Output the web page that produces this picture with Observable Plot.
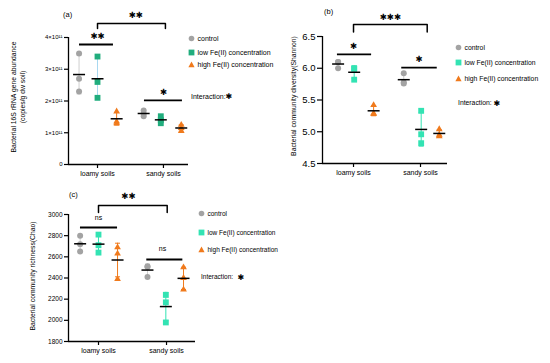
<!DOCTYPE html>
<html><head><meta charset="utf-8">
<script src="https://cdn.jsdelivr.net/npm/d3@7"></script>
<script src="https://cdn.jsdelivr.net/npm/@observablehq/plot@0.6"></script>
<style>
html,body{margin:0;padding:0;background:#fff;}
#chart{position:relative;width:550px;height:363px;overflow:hidden;font-family:"Liberation Sans",Arial,sans-serif;color:#000;background:#fff;}
.panel{position:absolute;}
.abs{position:absolute;white-space:nowrap;line-height:1;}
.row{position:absolute;white-space:nowrap;display:flex;align-items:center;height:8px;font-size:7px;}
.row svg{display:block;margin-right:3px;}
.star{font-family:"DejaVu Sans",sans-serif;}
</style></head><body><div id="chart"></div><script>
const soils = ["loamy soils", "sandy soils"];
const treatments = ["control", "low Fe(II) concentration", "high Fe(II) concentration"];

// (a) Bacterial 16S rRNA gene abundance (×10^11 copies/g dw soil); rows: control, low, high
const abundanceLoamy = [[3.5, 2.7, 2.3], [3.4, 2.6, 2.1], [1.67, 1.35, 1.3]];
const abundanceSandy = [[1.7, 1.6, 1.52], [1.52, 1.4, 1.3], [1.25, 1.15, 1.05]];
const abundanceTicks = [0, 1, 2, 3, 4];
const abundanceTickLabels = ["0", "1×10¹¹", "2×10¹¹", "3×10¹¹", "4×10¹¹"];
const abundanceSig = ["**", "**", "*"]; // between soils, within loamy, within sandy

// (b) Bacterial community diversity (Shannon)
const shannonLoamy = [[6.1, 6.1, 6.0], [6.0, 5.99, 5.82], [5.42, 5.29, 5.28]];
const shannonSandy = [[5.92, 5.78, 5.76], [5.33, 4.96, 4.82], [5.04, 4.95, 4.93]];
const shannonTicks = [4.5, 5.0, 5.5, 6.0, 6.5];
const shannonTickLabels = ["4.5", "5.0", "5.5", "6.0", "6.5"];
const shannonSig = ["***", "*", "*"];

// (c) Bacterial community richness (Chao)
const chaoLoamy = [[2800, 2720, 2650], [2810, 2710, 2640], [2690, 2630, 2390]];
const chaoSandy = [[2510, 2505, 2410], [2240, 2170, 1980], [2500, 2400, 2290]];
const chaoTicks = [1800, 2000, 2200, 2400, 2600, 2800, 3000];
const chaoTickLabels = ["1800", "2000", "2200", "2400", "2600", "2800", "3000"];
const chaoSig = ["**", "ns", "ns"];

const CTRL = "#a3a3a3", CTRL_ERR = "#cfcfcf", HIGH = "#f07a1c";
const symbols = ["circle", "square", "triangle"];
const symR = [3, 3.3, 2.5];
const hline = {draw(ctx, size) { const r = Math.sqrt(size / Math.PI); ctx.moveTo(-r, 0); ctx.lineTo(r, 0); }};
const starText = s => s === "ns" ? s : s.replace(/\*/g, "✱");

const chart = document.getElementById("chart");

function panel(o) {
  const groups = [];
  [o.loamy, o.sandy].forEach((soil, s) => soil.forEach((vals, t) => {
    const mean = d3.mean(vals), sd = d3.deviation(vals);
    groups.push({x: s + 1 + o.offsets[s][t], t, vals, mean, lo: mean - sd, hi: mean + sd});
  }));
  const points = groups.flatMap(g => g.vals.map(v => ({x: g.x, y: v, t: g.t})));
  const colors = [CTRL, o.low, HIGH];
  const errColors = [CTRL_ERR, o.lowErr, HIGH];
  const a = o.ann;
  const isStar = s => s !== "ns";
  const sigMark = (txt, x, y) => Plot.text([txt], {x: () => x, y: () => y, text: d => starText(d),
    fontSize: isStar(txt) ? 8.5 : 7, fontFamily: isStar(txt) ? "DejaVu Sans" : "Liberation Sans, Arial",
    fontWeight: "normal", letterSpacing: isStar(txt) ? 0.5 : 0});
  const marks = [
    // error bars (mean ± SD)
    Plot.ruleX(groups, {x: "x", y1: "lo", y2: "hi", stroke: d => errColors[d.t], strokeWidth: 1}),
    Plot.dot(groups, {x: "x", y: "lo", symbol: hline, r: 2.5, fill: "none", stroke: d => errColors[d.t], strokeWidth: 1}),
    Plot.dot(groups, {x: "x", y: "hi", symbol: hline, r: 2.5, fill: "none", stroke: d => errColors[d.t], strokeWidth: 1}),
    // points
    ...[0, 1, 2].map(t => Plot.dot(points.filter(p => p.t === t), {x: "x", y: "y", symbol: symbols[t], r: symR[t], fill: colors[t], stroke: "none"})),
    // means
    Plot.dot(groups, {x: "x", y: "mean", symbol: hline, r: 6, fill: "none", stroke: "black", strokeWidth: 1.5}),
    // axes
    Plot.ruleX([o.xDomain[0]], {y1: o.yDomain[0], y2: o.yDomain[1], strokeWidth: 1.3}),
    Plot.ruleY([o.yDomain[0]], {x1: o.xDomain[0], x2: o.xDomain[1], strokeWidth: 1.3}),
    Plot.axisY({ticks: o.ticks, tickFormat: d => o.tickLabels[o.ticks.indexOf(d)], tickSize: o.tickSize, tickPadding: 2, fontSize: o.tickFont, label: null, strokeWidth: 1.2}),
    Plot.axisX({ticks: [1, 2], tickFormat: d => soils[d - 1], tickSize: 4, tickPadding: 3, fontSize: 7, label: null, strokeWidth: 1.2}),
    // y label
    Plot.text([o.ylabel], {text: d => d, frameAnchor: "left", textAnchor: "middle", lineAnchor: "middle", rotate: -90, dx: o.ylabelDx, dy: o.ylabelDy || 0, fontSize: 6.8, lineHeight: 1.3}),
    // significance
    Plot.line([[a.bx1, a.bdrop], [a.bx1, a.btop], [a.bx2, a.btop], [a.bx2, a.bdrop]], {x: d => d[0], y: d => d[1], strokeWidth: 1.5}),
    sigMark(o.sig[0], a.btx, a.bty),
    Plot.ruleY([a.ly], {x1: a.lx[0], x2: a.lx[1], strokeWidth: 1.8}),
    sigMark(o.sig[1], a.ltx, a.lty),
    Plot.ruleY([a.sy], {x1: a.sx[0], x2: a.sx[1], strokeWidth: 1.8}),
    sigMark(o.sig[2], a.stx, a.sty)
  ];
  const svg = Plot.plot({
    width: o.width, height: o.height,
    marginLeft: o.m[0], marginTop: o.m[1], marginRight: o.m[2], marginBottom: o.m[3],
    x: {type: "linear", domain: o.xDomain},
    y: {type: "linear", domain: o.yDomain},
    style: {background: "transparent", fontFamily: "Liberation Sans, Arial, sans-serif", overflow: "visible", color: "black"},
    marks
  });
  svg.classList.add("panel");
  svg.style.left = o.left + "px";
  svg.style.top = o.top + "px";
  chart.appendChild(svg);

  // panel letter
  const lt = document.createElement("div");
  lt.className = "abs"; lt.style.fontSize = "7.5px";
  lt.style.left = o.letterPos[0] + "px"; lt.style.top = o.letterPos[1] + "px";
  lt.textContent = o.letter;
  chart.appendChild(lt);

  // legend
  treatments.forEach((name, t) => {
    const row = document.createElement("div");
    row.className = "row";
    row.style.fontSize = o.legendFont + "px";
    row.style.left = (o.legend[0] - 3.5) + "px";
    row.style.top = (o.legend[1][t] - 4) + "px";
    let shape;
    if (t === 0) shape = `<circle cx="3.5" cy="3.5" r="2.8" fill="${colors[0]}"/>`;
    else if (t === 1) shape = `<rect x="0.6" y="0.6" width="5.8" height="5.8" fill="${colors[1]}"/>`;
    else shape = `<path d="M3.5,0.6L6.6,6.2L0.4,6.2Z" fill="${colors[2]}"/>`;
    row.innerHTML = `<svg width="7" height="7" viewBox="0 0 7 7">${shape}</svg><span>${name}</span>`;
    chart.appendChild(row);
  });
  const it = document.createElement("div");
  it.className = "abs"; it.style.fontSize = o.legendFont + "px";
  it.style.left = o.inter[0] + "px"; it.style.top = (o.inter[1] - 4) + "px";
  it.textContent = "Interaction:";
  chart.appendChild(it);
  const st = document.createElement("div");
  st.className = "abs star"; st.style.fontSize = "8px";
  st.style.left = (o.inter[2] - 3.5) + "px"; st.style.top = (o.inter[1] - 4.5) + "px";
  st.textContent = "✱";
  chart.appendChild(st);
}

// (a)
panel({
  loamy: abundanceLoamy, sandy: abundanceSandy, yDomain: [0, 4], ticks: abundanceTicks, tickLabels: abundanceTickLabels,
  tickFont: 6, tickSize: 4, xDomain: [0.56, 2.38], offsets: [[-0.28, 0, 0.29], [-0.3, -0.04, 0.27]],
  width: 270, height: 185, m: [68, 37, 82, 21], left: 0, top: 0,
  low: "#21ad7d", lowErr: "#a8d8f0",
  ylabel: "Bacterial 16S rRNA gene abundance\n(copies/g dw soil)", ylabelDx: -50.5, ylabelDy: -4,
  sig: abundanceSig,
  ann: {bx1: 1, bx2: 2.03, btop: 4.44, bdrop: 4.28, btx: 1.58, bty: 4.69,
        ly: 3.78, lx: [0.727, 1.242], ltx: 1.0, lty: 4.03,
        sy: 2.02, sx: [1.712, 2.288], stx: 2.0, sty: 2.27},
  letter: "(a)", letterPos: [63, 11],
  legend: [191, [38, 52, 64]], legendFont: 7, inter: [191, 97, 229]
});

// (b)
panel({
  loamy: shannonLoamy, sandy: shannonSandy, yDomain: [4.5, 6.5], ticks: shannonTicks, tickLabels: shannonTickLabels,
  tickFont: 9.5, tickSize: 5, xDomain: [0.537, 2.403], offsets: [[-0.23, 0.01, 0.3], [-0.25, 0.01, 0.28]],
  width: 280, height: 185, m: [52, 36, 103, 22], left: 270, top: 0,
  low: "#33e3b3", lowErr: "#33e3b3",
  ylabel: "Bacterial community diversity(Shannon)", ylabelDx: -29, ylabelDy: -4,
  sig: shannonSig,
  ann: {bx1: 1, bx2: 2.1, btop: 6.69, bdrop: 6.57, btx: 1.55, bty: 6.80,
        ly: 6.22, lx: [0.76, 1.27], ltx: 1.0, lty: 6.34,
        sy: 6.01, sx: [1.72, 2.25], stx: 1.98, sty: 6.14},
  letter: "(b)", letterPos: [324, 8],
  legend: [458, [47, 62, 78]], legendFont: 6.8, inter: [458, 104, 497]
});

// (c)
panel({
  loamy: chaoLoamy, sandy: chaoSandy, yDomain: [1800, 3000], ticks: chaoTicks, tickLabels: chaoTickLabels,
  tickFont: 6.5, tickSize: 4, xDomain: [0.559, 2.426], offsets: [[-0.27, 0, 0.28], [-0.28, -0.01, 0.25]],
  width: 280, height: 183, m: [68, 34, 85, 22], left: 0, top: 180,
  low: "#33e3b3", lowErr: "#33e3b3",
  ylabel: "Bacterial community richness(Chao)", ylabelDx: -36, ylabelDy: -2,
  sig: chaoSig,
  ann: {bx1: 1, bx2: 2.01, btop: 3085, bdrop: 3019, btx: 1.44, bty: 3170,
        ly: 2877, lx: [0.735, 1.28], ltx: 1.0, lty: 2972,
        sy: 2575, sx: [1.71, 2.24], stx: 1.94, sty: 2679},
  letter: "(c)", letterPos: [69, 191],
  legend: [201, [213, 232, 249]], legendFont: 6.5, inter: [201, 278, 241]
});
</script></body></html>
